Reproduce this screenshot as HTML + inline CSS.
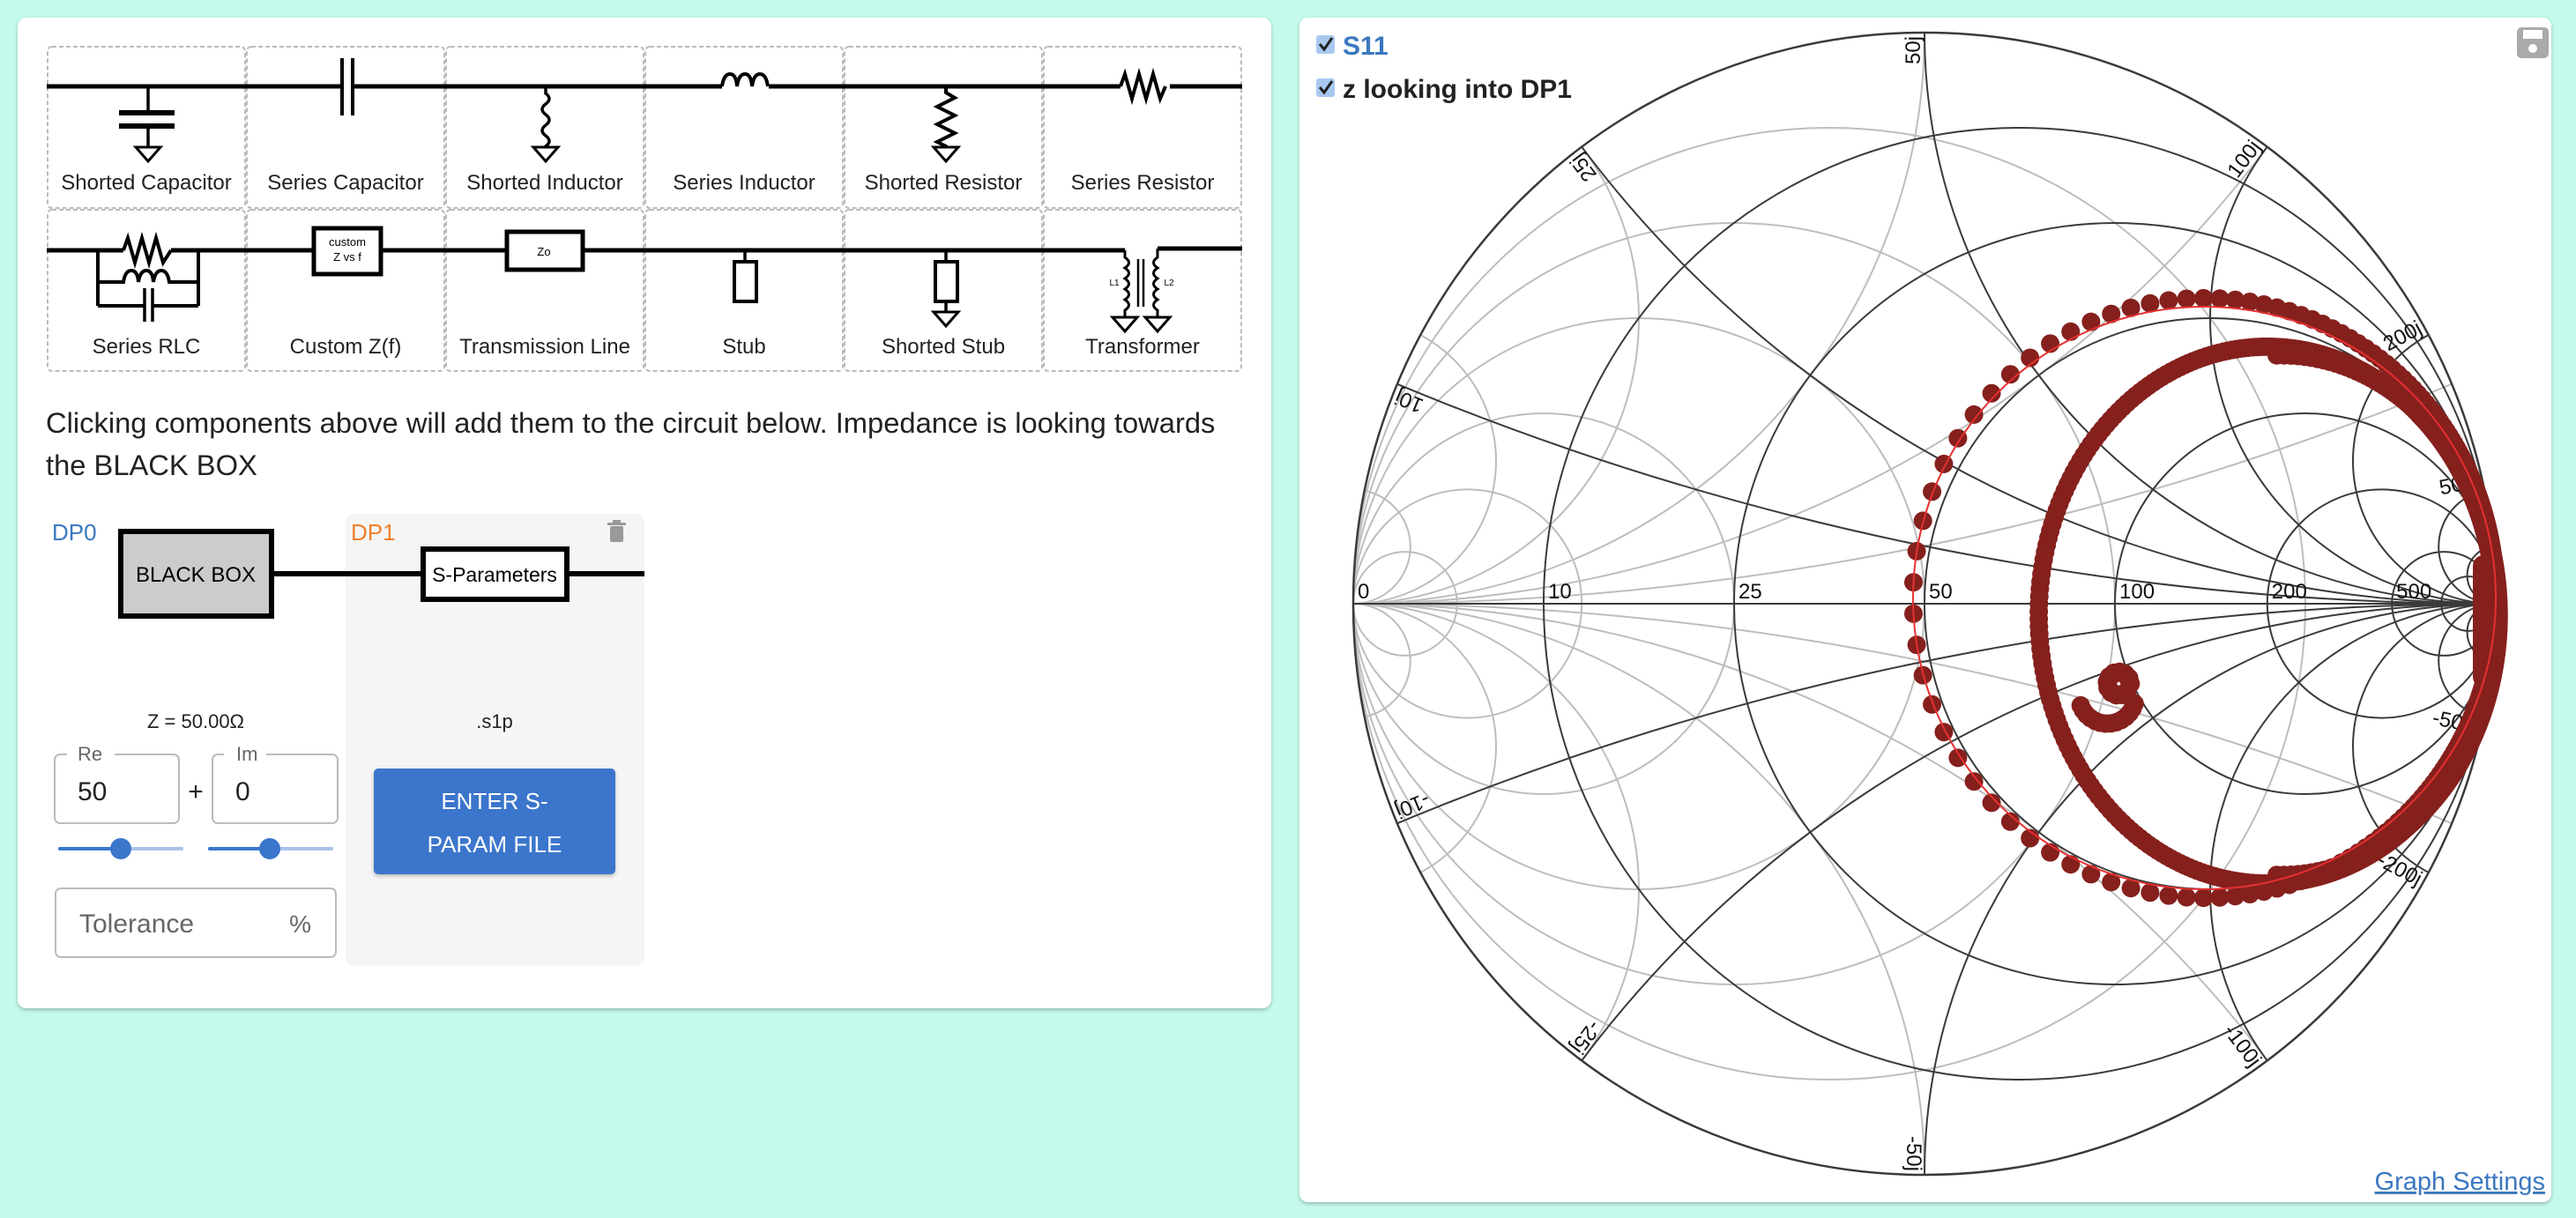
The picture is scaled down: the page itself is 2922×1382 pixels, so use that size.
<!DOCTYPE html>
<html><head><meta charset="utf-8">
<style>
html,body{margin:0;padding:0;background:#c4faec;width:2922px;height:1382px;overflow:hidden;font-family:"Liberation Sans",Arial,sans-serif;}
svg{position:absolute;left:0;top:0;display:block;}
</style></head>
<body>
<svg id="s" width="2922" height="1382" viewBox="0 0 2922 1382" xmlns="http://www.w3.org/2000/svg" font-family="Liberation Sans, Arial, sans-serif">
<defs>
<filter id="sh" x="-5%" y="-5%" width="110%" height="110%"><feDropShadow dx="0" dy="2" stdDeviation="2" flood-color="#000" flood-opacity="0.25"/></filter>
<clipPath id="uc"><circle cx="2183" cy="685" r="648"/></clipPath>
</defs>
<rect x="20" y="20" width="1422" height="1124" rx="10" fill="#fff" filter="url(#sh)"/>
<rect x="1474" y="20" width="1420" height="1344" rx="10" fill="#fff" filter="url(#sh)"/>

<g fill="none" stroke="#bbb" stroke-width="2" stroke-dasharray="5,3">
<rect x="54" y="53" width="224" height="183" rx="5"/><rect x="280" y="53" width="224" height="183" rx="5"/><rect x="506" y="53" width="224" height="183" rx="5"/><rect x="732" y="53" width="224" height="183" rx="5"/><rect x="958" y="53" width="224" height="183" rx="5"/><rect x="1184" y="53" width="224" height="183" rx="5"/>
<rect x="54" y="238" width="224" height="183" rx="5"/><rect x="280" y="238" width="224" height="183" rx="5"/><rect x="506" y="238" width="224" height="183" rx="5"/><rect x="732" y="238" width="224" height="183" rx="5"/><rect x="958" y="238" width="224" height="183" rx="5"/><rect x="1184" y="238" width="224" height="183" rx="5"/>
</g>
<g fill="none" stroke="#000" stroke-width="5" stroke-linejoin="miter">
<path d="M53 98H386M400 98H819M872 98H1271M1327 98H1409"/>
<path d="M168 98V128M168 143V167" stroke-width="3.5"/>
<path d="M135 128H198M135 143H198" stroke-width="6"/>
<path d="M388 66V131M400 66V131" stroke-width="4"/>
<path d="M619 98V106 q8 6 0 12 q-8 6 0 12 q8 6 0 12 q-8 6 0 12 q8 6 0 12 V167" stroke-width="3.5"/>
<path d="M819 98 q2 -14 9 -14 q7 0 8 14 q2 -14 9 -14 q7 0 8 14 q2 -14 9 -14 q7 0 9 14" stroke-width="4"/>
<path d="M1073 98V105 l10 6 l-20 10 l20 10 l-20 10 l20 10 l-20 10 l10 5V167" stroke-width="4"/>
<path d="M1271 98 l5 -14 l8 28 l8 -28 l8 28 l8 -28 l8 28 l6 -14" stroke-width="4"/>
<path d="M53 284H140M194 284H354M433 284H573M662 284H1276"/>
<path d="M1313 282H1409" stroke-width="5"/>
<path d="M140 284 l5 -14 l8 28 l8 -28 l8 28 l8 -28 l8 28 l9 -14" stroke-width="4"/>
<path d="M111 284V347M225 284V347" stroke-width="4"/>
<path d="M111 320H140 q2 -13 9 -13 q7 0 8 13 q2 -13 9 -13 q7 0 8 13 q2 -13 9 -13 q7 0 9 13 H225" stroke-width="4"/>
<path d="M111 347H163M174 347H225" stroke-width="4"/>
<path d="M164 327V365M173 327V365" stroke-width="3.5"/>
<rect x="356" y="259" width="76" height="52" stroke-width="5" fill="#fff"/>
<rect x="575" y="263" width="86" height="43" stroke-width="5" fill="#fff"/>
<path d="M845 284V296" stroke-width="3.5"/>
<rect x="833" y="297" width="25" height="45" stroke-width="4"/>
<path d="M1073 284V296M1073 342V354" stroke-width="3.5"/>
<rect x="1061" y="297" width="25" height="45" stroke-width="4"/>
<path d="M1276 284V292 q9 6 0 12 q9 6 0 12 q9 6 0 12 q9 6 0 12 q9 6 0 12 V360" stroke-width="3"/>
<path d="M1313 282V292 q-9 6 0 12 q-9 6 0 12 q-9 6 0 12 q-9 6 0 12 q-9 6 0 12 V360" stroke-width="3"/>
<path d="M1291 294V348M1297 294V348" stroke-width="2.5"/>
</g>
<g fill="#fff" stroke="#000" stroke-width="3">
<path d="M154 167H182L168 183Z"/><path d="M605 167H633L619 183Z"/><path d="M1059 167H1087L1073 183Z"/>
<path d="M1059 354H1087L1073 370Z"/><path d="M1262 360H1290L1276 376Z"/><path d="M1299 360H1327L1313 376Z"/>
</g>
<g font-size="13" fill="#000" text-anchor="middle">
<text x="394" y="279">custom</text><text x="394" y="296">Z vs f</text>
<text x="617" y="290">Zo</text>
<text x="1264" y="324" font-size="10">L1</text><text x="1326" y="324" font-size="10">L2</text>
</g>
<g font-size="24" fill="#222" text-anchor="middle">
<text x="166" y="215">Shorted Capacitor</text><text x="392" y="215">Series Capacitor</text><text x="618" y="215">Shorted Inductor</text><text x="844" y="215">Series Inductor</text><text x="1070" y="215">Shorted Resistor</text><text x="1296" y="215">Series Resistor</text>
<text x="166" y="401">Series RLC</text><text x="392" y="401">Custom Z(f)</text><text x="618" y="401">Transmission Line</text><text x="844" y="401">Stub</text><text x="1070" y="401">Shorted Stub</text><text x="1296" y="401">Transformer</text>
</g>
<g font-size="32.7" fill="#222">
<text x="52" y="491">Clicking components above will add them to the circuit below. Impedance is looking towards</text>
<text x="52" y="539">the BLACK BOX</text>
</g>

<rect x="392" y="583" width="339" height="513" rx="9" fill="#f5f5f5"/>
<text x="59" y="613" font-size="26" fill="#3b78c0">DP0</text>
<text x="398" y="613" font-size="26" fill="#f0802a">DP1</text>
<path d="M309 651H731" stroke="#000" stroke-width="6"/>
<rect x="137" y="603" width="171" height="96" fill="#ccc" stroke="#000" stroke-width="6"/>
<text x="222" y="660" font-size="24" text-anchor="middle" fill="#000">BLACK BOX</text>
<rect x="480" y="623" width="163" height="57" fill="#fff" stroke="#000" stroke-width="6"/>
<text x="561" y="660" font-size="23" text-anchor="middle" fill="#000">S-Parameters</text>
<g fill="#999"><rect x="692" y="597" width="15" height="18" rx="2"/><rect x="689" y="593" width="21" height="3"/><rect x="695" y="590" width="9" height="3"/></g>
<text x="222" y="826" font-size="22" text-anchor="middle" fill="#222">Z = 50.00Ω</text>
<text x="561" y="826" font-size="22" text-anchor="middle" fill="#222">.s1p</text>
<g fill="#fff" stroke="#bbb" stroke-width="2">
<rect x="62" y="856" width="141" height="78" rx="6"/><rect x="241" y="856" width="142" height="78" rx="6"/>
<rect x="63" y="1008" width="318" height="78" rx="6"/>
</g>
<rect x="76" y="848" width="54" height="16" fill="#fff"/><rect x="254" y="848" width="48" height="16" fill="#fff"/>
<text x="88" y="863" font-size="22" fill="#666">Re</text><text x="268" y="863" font-size="22" fill="#666">Im</text>
<text x="88" y="908" font-size="30" fill="#222">50</text><text x="267" y="908" font-size="30" fill="#222">0</text>
<text x="222" y="908" font-size="30" fill="#222" text-anchor="middle">+</text>
<g stroke-width="4" stroke-linecap="round">
<path d="M68 963H206" stroke="#a8c3ea"/><path d="M68 963H137" stroke="#3a76cc"/>
<path d="M238 963H376" stroke="#a8c3ea"/><path d="M238 963H306" stroke="#3a76cc"/>
</g>
<circle cx="137" cy="963" r="12" fill="#3a76cc"/><circle cx="306" cy="963" r="12" fill="#3a76cc"/>
<text x="90" y="1058" font-size="30" fill="#666">Tolerance</text><text x="353" y="1058" font-size="28" fill="#666" text-anchor="end">%</text>
<rect x="424" y="872" width="274" height="120" rx="5" fill="#3a76cc" filter="url(#sh)"/>
<g font-size="26" fill="#fff" text-anchor="middle"><text x="561" y="918">ENTER S-</text><text x="561" y="967">PARAM FILE</text></g>

<rect x="1493" y="40" width="21" height="21" rx="3" fill="#a8c8f0"/><path d="M1497 50l5 6 9-13" fill="none" stroke="#222" stroke-width="3"/>
<text x="1523" y="62" font-size="30" font-weight="bold" fill="#3b78c0">S11</text>
<rect x="1493" y="89" width="21" height="21" rx="3" fill="#a8c8f0"/><path d="M1497 99l5 6 9-13" fill="none" stroke="#222" stroke-width="3"/>
<text x="1523" y="111" font-size="30" font-weight="bold" fill="#222">z looking into DP1</text>
<rect x="2855" y="31" width="36" height="35" rx="5" fill="#aaa"/><rect x="2862" y="34" width="22" height="10" fill="#fff"/><circle cx="2873" cy="55" r="5" fill="#fff"/>
<text x="2887" y="1350" font-size="29" fill="#3b78c0" text-anchor="end" text-decoration="underline">Graph Settings</text>
<g id="chart"></g>
</svg>
<script>
var cx=2183,cy=685,R=648,NS="http://www.w3.org/2000/svg";
var ch=document.getElementById('chart');
function el(t,a,p){var e=document.createElementNS(NS,t);for(var k in a)e.setAttribute(k,a[k]);(p||ch).appendChild(e);return e;}
var g=el('g',{'clip-path':'url(#uc)',fill:'none'});
function C(u,v,r,col,w){el('circle',{cx:cx+u*R,cy:cy-v*R,r:r*R,stroke:col,'stroke-width':w},g);}
var vals=[0.2,0.5,1,2,4,10,20];
var L='#bdbdbd',D='#3a3a3a';
[0.2,0.5,1,2,4,10].forEach(function(x){C(-x/(1+x),0,1/(1+x),L,2);C(-1,1/x,1/x,L,2);C(-1,-1/x,1/x,L,2);});
vals.forEach(function(x){C(x/(1+x),0,1/(1+x),D,2);C(1,1/x,1/x,D,2);C(1,-1/x,1/x,D,2);});
el('line',{x1:cx-R,y1:cy,x2:cx+R,y2:cy,stroke:D,'stroke-width':2},g);
el('circle',{cx:cx,cy:cy,r:R,fill:'none',stroke:D,'stroke-width':2.5});
var rl=[[0,'0'],[0.2,'10'],[0.5,'25'],[1,'50'],[2,'100'],[4,'200'],[10,'500']];
rl.forEach(function(a){var u=(a[0]-1)/(a[0]+1);var t=el('text',{x:cx+u*R+5,y:cy-6,'font-size':24,fill:'#111'});t.textContent=a[1];});
var xl=[[0.2,'10j'],[0.5,'25j'],[1,'50j'],[2,'100j'],[4,'200j'],[10,'500j']];
xl.forEach(function(a){[1,-1].forEach(function(s){var x=a[0]*s;var u=(x*x-1)/(x*x+1),v=2*x/(x*x+1);var ang=Math.atan2(v,u)*180/Math.PI;var px=cx+u*(R-4),py=cy-v*(R-4);
var t=el('text',{x:px,y:py,'font-size':24,fill:'#111','text-anchor':'end',transform:'rotate('+(-ang)+' '+px+' '+py+') translate(0,'+(s>0?-5:20)+')'});t.textContent=(s<0?'-':'')+a[1];});});
var dg=el('g',{fill:'#85201d'});
function P(u,v){return [cx+u*R,cy-v*R];}
el('circle',{cx:cx+0.49*R,cy:cy-0.01*R,r:0.51*R,fill:'none',stroke:'#e53030','stroke-width':2});
function ring(uc,vc,ru,rv,k,n,rad,lim){for(var i=0;i<n;i++){var ph=-Math.PI+2*Math.PI*(i+0.5)/n;var th=2*Math.atan(k*Math.tan(ph/2));if(lim&&Math.abs(th)>lim)continue;var p=P(uc+ru*Math.cos(th),vc+rv*Math.sin(th));el('circle',{cx:p[0],cy:p[1],r:rad},dg);}}
ring(0.49,0.01,0.51,0.525,0.3,200,10.5);
ring(0.6,-0.02,0.4,0.47,0.45,500,10.5);
ring(0.625,-0.02,0.38,0.455,0.35,300,10.5,1.6);
ring(0.64,-0.02,0.36,0.45,0.35,300,10.5,0.9);
for(var i=0;i<14;i++){var th=-Math.PI/2-1.2+i*0.19;var p=P(0.32+0.05*Math.cos(th),-0.16+0.05*Math.sin(th));el('circle',{cx:p[0],cy:p[1],r:10.5},dg);}
for(var i=0;i<12;i++){var p=P(0.34+0.02*Math.cos(i*0.5),-0.14+0.02*Math.sin(i*0.5));el('circle',{cx:p[0],cy:p[1],r:11},dg);}
el('rect',{x:cx+R-26,y:cy-55,width:26,height:150,rx:12},dg);
</script>
</body></html>
